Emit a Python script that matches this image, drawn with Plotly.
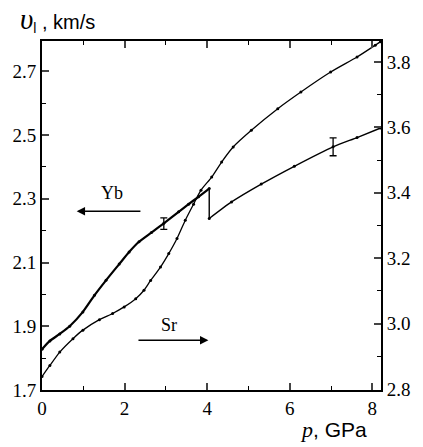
import plotly.graph_objects as go

# Yb (left axis)
yb_p = [0, 0.19, 0.43, 0.67, 0.99, 1.27, 1.55, 1.87, 2.11, 2.35, 2.65, 2.95, 3.31, 3.55, 3.79, 4.05, 4.05, 4.59, 5.31, 6.11, 7.05, 7.63, 8.2]
yb_v = [1.828, 1.854, 1.876, 1.900, 1.945, 1.997, 2.044, 2.095, 2.133, 2.165, 2.194, 2.223, 2.259, 2.283, 2.306, 2.332, 2.238, 2.290, 2.346, 2.402, 2.463, 2.492, 2.522]
JUMP = 16  # index of the point after the drop at p = 4.05

# Sr (right axis)
sr_p = [0, 0.19, 0.43, 0.75, 0.99, 1.39, 1.71, 1.99, 2.27, 2.47, 2.63, 2.87, 3.07, 3.27, 3.47, 3.67, 3.85, 4.11, 4.35, 4.63, 5.07, 5.71, 6.27, 6.99, 7.63, 8.07, 8.2]
sr_v = [2.838, 2.872, 2.913, 2.954, 2.980, 3.012, 3.031, 3.051, 3.076, 3.102, 3.132, 3.173, 3.214, 3.260, 3.316, 3.365, 3.408, 3.448, 3.494, 3.540, 3.591, 3.657, 3.708, 3.769, 3.815, 3.851, 3.862]

# Yb error bars
err_p = [2.95, 7.05]
err_v = [2.222, 2.463]
err_e = [0.018, 0.028]

left_ticks = [1.7, 1.9, 2.1, 2.3, 2.5, 2.7]
right_ticks = [2.8, 3.0, 3.2, 3.4, 3.6, 3.8]
x_ticks = [0, 2, 4, 6, 8]

SERIF = "Liberation Serif"
SANS = "Liberation Sans"

fig = go.Figure()
# Yb before the drop (thick)
fig.add_trace(go.Scatter(x=yb_p[:JUMP], y=yb_v[:JUMP], mode="lines+markers",
                         line=dict(color="black", width=2.2, shape="spline", smoothing=0.6),
                         marker=dict(color="black", size=3), yaxis="y", showlegend=False))
# the drop at p = 4.05
fig.add_trace(go.Scatter(x=yb_p[JUMP - 1:JUMP + 1], y=yb_v[JUMP - 1:JUMP + 1], mode="lines",
                         line=dict(color="black", width=1.4), yaxis="y", showlegend=False))
# Yb after the drop
fig.add_trace(go.Scatter(x=yb_p[JUMP:], y=yb_v[JUMP:], mode="lines+markers",
                         line=dict(color="black", width=1.4, shape="spline", smoothing=0.6),
                         marker=dict(color="black", size=3), yaxis="y", showlegend=False))
# Sr
fig.add_trace(go.Scatter(x=sr_p, y=sr_v, mode="lines+markers",
                         line=dict(color="black", width=1.3, shape="spline", smoothing=0.6),
                         marker=dict(color="black", size=3), yaxis="y2", showlegend=False))
fig.add_trace(go.Scatter(x=err_p, y=err_v, mode="markers",
                         marker=dict(color="black", size=1),
                         error_y=dict(type="data", array=err_e, visible=True, color="black", thickness=1.3, width=3.5),
                         yaxis="y", showlegend=False))

tickfont = dict(family=SERIF, size=19, color="black")

fig.update_layout(
    width=423, height=447,
    margin=dict(l=42, r=38, t=41, b=57),
    paper_bgcolor="white", plot_bgcolor="white",
    font=dict(family=SERIF, color="black"),
    xaxis=dict(range=[0, 8.21], tickvals=x_ticks, ticks="inside", ticklen=7, tickwidth=1.5,
               showline=True, linecolor="black", linewidth=1.8, mirror="ticks",
               showgrid=False, zeroline=False, tickfont=tickfont,
               minor=dict(dtick=1, ticks="inside", ticklen=4, tickwidth=1.3, tickcolor="black", showgrid=False)),
    yaxis=dict(range=[1.7, 2.795], tickvals=left_ticks, ticks="inside", ticklen=7, tickwidth=1.5,
               showline=True, linecolor="black", linewidth=1.8,
               showgrid=False, zeroline=False, tickfont=tickfont,
               minor=dict(dtick=0.1, tick0=1.7, ticks="inside", ticklen=4, tickwidth=1.3, tickcolor="black", showgrid=False)),
    yaxis2=dict(range=[2.797, 3.864], tickvals=right_ticks, ticks="inside", ticklen=7, tickwidth=1.5,
                overlaying="y", side="right",
                showline=True, linecolor="black", linewidth=1.8,
                showgrid=False, zeroline=False, tickfont=tickfont, tickformat=".1f",
                minor=dict(dtick=0.1, tick0=2.8, ticks="inside", ticklen=4, tickwidth=1.3, tickcolor="black", showgrid=False)),
)

# axis titles
fig.add_annotation(xref="paper", yref="paper", x=-0.072, y=1.062, xanchor="left", yanchor="middle",
                   showarrow=False,
                   text="<span style='font-family:Liberation Serif;font-size:29px'><i>υ</i></span><sub>l</sub> ,&nbsp;km/s",
                   font=dict(family=SANS, size=20, color="black"))
fig.add_annotation(xref="paper", yref="paper", x=0.755, y=-0.113, xanchor="left", yanchor="middle",
                   showarrow=False,
                   text="<span style='font-family:Liberation Serif;font-size:22px'><i>p</i></span>, GPa",
                   font=dict(family=SANS, size=21, color="black"))

# series labels with arrows
fig.add_annotation(x=1.70, y=2.317, xref="x", yref="y", text="Yb", showarrow=False,
                   font=dict(family=SERIF, size=18, color="black"))
fig.add_annotation(x=0.84, y=2.261, ax=2.42, ay=2.261, xref="x", yref="y", axref="x", ayref="y",
                   text="", showarrow=True, arrowhead=2, arrowsize=1.2, arrowwidth=1.4, arrowcolor="black")
fig.add_annotation(x=3.07, y=1.905, xref="x", yref="y", text="Sr", showarrow=False,
                   font=dict(family=SERIF, size=18, color="black"))
fig.add_annotation(x=4.03, y=1.856, ax=2.30, ay=1.856, xref="x", yref="y", axref="x", ayref="y",
                   text="", showarrow=True, arrowhead=2, arrowsize=1.2, arrowwidth=1.4, arrowcolor="black")

fig.write_html("out.html", config={"displayModeBar": False},
               post_script="document.body.style.margin='0';document.body.style.overflow='hidden';")
